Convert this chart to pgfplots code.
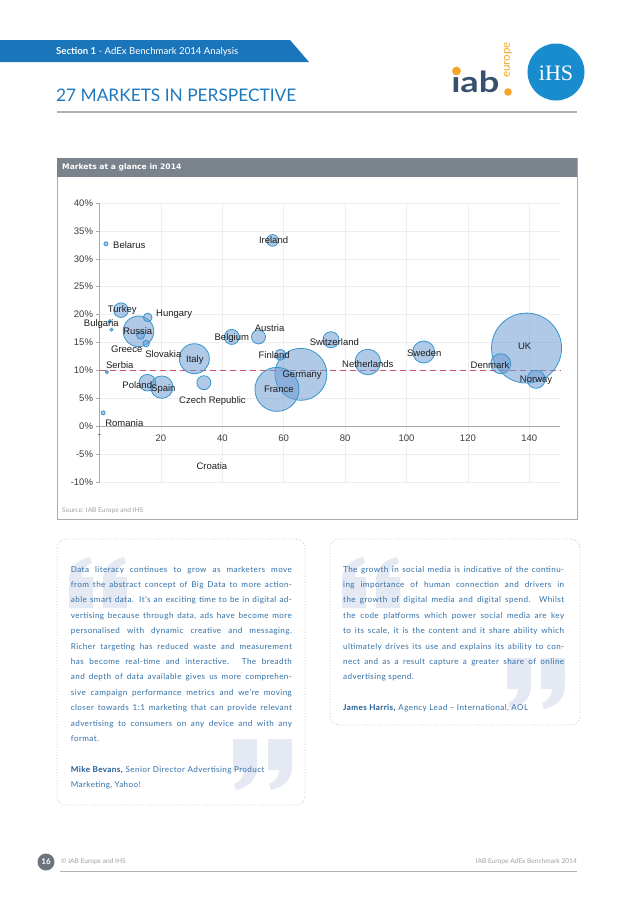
\documentclass[border=0pt]{standalone}
\usepackage{pgfplots}
\pgfplotsset{compat=1.18}
\usepackage{pgfplotstable}
\usepackage{fontspec}
\setmainfont{Lato}
\newfontfamily\chartfont{Liberation Sans}
\newfontfamily\ihsfont{Liberation Serif}
\newfontfamily\hdrfont{DejaVu Sans}
\newfontfamily\quotefont[LetterSpace=5]{Lato}

\definecolor{bandblue}{RGB}{27,117,187}
\definecolor{titleblue}{RGB}{30,120,190}
\definecolor{rulegrey}{RGB}{175,178,182}
\definecolor{hdrgrey}{RGB}{122,130,140}
\definecolor{boxgrey}{RGB}{165,170,176}
\definecolor{bubfill}{RGB}{110,157,210}
\definecolor{bubedge}{RGB}{55,150,205}
\definecolor{refred}{RGB}{200,85,110}
\definecolor{gridc}{RGB}{238,238,238}
\definecolor{axisgrey}{RGB}{170,170,170}
\definecolor{tickc}{RGB}{60,60,60}
\definecolor{labc}{RGB}{30,30,30}
\definecolor{quoteblue}{RGB}{50,112,168}
\definecolor{authblue}{RGB}{30,90,150}
\definecolor{quotebg}{RGB}{228,233,243}
\definecolor{iabgrey}{RGB}{55,80,110}
\definecolor{iaborange}{RGB}{245,165,40}
\definecolor{ihsblue}{RGB}{25,140,205}
\definecolor{footgrey}{RGB}{160,160,160}
\definecolor{footcirc}{RGB}{110,116,126}
\definecolor{dotgrey}{RGB}{195,198,202}

\pgfplotstableread[col sep=comma]{
x,y,r
139.1,14.0,35
65.6,9.3,26
57.8,6.6,22
12.7,17.0,15.3
30.9,12.1,15
87.4,11.5,12.8
20.3,7.0,11.2
105.6,13.3,11
130.7,11.2,10
142.2,8.4,9
15.6,7.8,8.3
75.4,15.5,8
43.1,16.0,7.5
7.0,20.8,7.3
51.8,16.0,7
34.0,7.8,7
56.4,33.3,5.8
58.9,12.8,5.5
15.7,19.5,4.3
13.4,16.3,4
15.2,14.8,3.3
2.1,32.7,2
1.2,2.4,2
3.4,18.8,1.7
3.9,17.3,1.5
2.4,9.7,1.5
}\bubbles

\pgfplotstableread[col sep=comma]{
x,y,label
9.72,32.38,Belarus
56.7,33.28,Ireland
7.4,20.79,Turkey
24.3,20.1,Hungary
0.6,18.33,Bulgaria
12.46,17.03,Russia
55.4,17.6,Austria
43.1,15.82,Belgium
8.87,13.74,Greece
20.8,12.95,Slovakia
31.05,11.88,Italy
56.9,12.72,Finland
6.6,10.89,Serbia
66.0,9.14,Germany
12.3,7.30,Poland
20.8,6.68,Spain
58.4,6.56,France
36.8,4.48,Czech Republic
8.1,0.59,Romania
36.6,-7.17,Croatia
76.5,15.12,Switzerland
105.8,13.17,Sweden
87.4,11.17,Netherlands
127.2,10.97,Denmark
138.5,14.28,UK
142.2,8.24,Norway
}\labels

\newcommand\qmark[2]{\fill[quotebg] (#1,#2) -- ({#1+24},#2) -- ({#1+24},{#2+28})
  .. controls ({#1+24},{#2+40}) and ({#1+16},{#2+48}) .. ({#1+3},{#2+51})
  -- ({#1+1},{#2+45}) .. controls ({#1+9},{#2+42}) and ({#1+11},{#2+36}) .. ({#1+11},{#2+31})
  -- (#1,{#2+31}) -- cycle;}

\newcommand\qline[3]{\node[anchor=base west, inner sep=0pt, text=quoteblue,
  font=\quotefont\fontsize{8.1}{9}\selectfont] at (#1,#2) {\makebox[221pt][s]{#3}};}
\newcommand\qlast[3]{\node[anchor=base west, inner sep=0pt, text=quoteblue,
  font=\quotefont\fontsize{8.1}{9}\selectfont] at (#1,#2) {#3};}

\begin{document}
\begin{tikzpicture}
\begin{scope}[x=1pt,y=-1pt]
\fill[white] (0,0) rectangle (638,903);
\path[use as bounding box] (0,0) rectangle (638,903);
% header band
\fill[bandblue] (0,40) -- (290,40) -- (309,62) -- (0,62) -- cycle;
\node[anchor=west, text=white, inner sep=0pt, font=\fontsize{9.6}{10}\selectfont] at (56,51.5)
  {\textbf{Section 1} - AdEx Benchmark 2014 Analysis};
% title
\node[anchor=base west, inner sep=0pt, text=titleblue, font=\fontsize{17.3}{18}\selectfont] at (56,101)
  {27 MARKETS IN PERSPECTIVE};
\draw[rulegrey, line width=1.3pt] (57,112) -- (577,112);
% logos
\node[anchor=base west, inner sep=0pt, text=iabgrey, font=\bfseries\fontsize{29}{29}\selectfont, xscale=1.25] at (451,92) {ıab};
\fill[iaborange] (456.5,71) circle (4.4);
\fill[iaborange] (508,92) circle (3.8);
\node[rotate=90, inner sep=0pt, text=iaborange, font=\fontsize{11.5}{12}\selectfont] at (508,60) {europe};
\fill[ihsblue] (556,72) circle (28.5);
\node[text=white, inner sep=0pt, font=\ihsfont\fontsize{22}{22}\selectfont] at (556,73) {iHS};
% chart box
\draw[boxgrey, line width=0.9pt] (57,158) rectangle (577,519);
\fill[hdrgrey] (57,158) rectangle (577,176.5);
\node[anchor=west, text=white, inner sep=0pt, font=\hdrfont\bfseries\fontsize{7.6}{9}\selectfont] at (62,167.3)
  {Markets at a glance in 2014};
\node[anchor=west, text=footgrey, inner sep=0pt, font=\fontsize{6.6}{7}\selectfont] at (62,511)
  {Source: IAB Europe and IHS};
% quote boxes
\draw[dotgrey, line width=0.8pt, dotted, rounded corners=9pt] (57,539) rectangle (305,805);
\draw[dotgrey, line width=0.8pt, dotted, rounded corners=9pt] (330,539) rectangle (580,725);
\begin{scope}[rotate around={180:(98.5,582.5)}]
\qmark{70}{557}\qmark{104}{557}
\end{scope}
\begin{scope}[rotate around={180:(371.5,582.5)}]
\qmark{343}{557}\qmark{377}{557}
\end{scope}
\qmark{233}{739}\qmark{268}{739}
\qmark{507}{658}\qmark{541}{658}
% left quote text
\qline{70.7}{572}{Data literacy continues to grow as marketers move}
\qline{70.7}{587.4}{from the abstract concept of Big Data to more action-}
\qline{70.7}{602.8}{able smart data. It’s an exciting time to be in digital ad-}
\qline{70.7}{618.2}{vertising because through data, ads have become more}
\qline{70.7}{633.6}{personalised with dynamic creative and messaging.}
\qline{70.7}{649}{Richer targeting has reduced waste and measurement}
\qline{70.7}{664.4}{has become real-time and interactive. The breadth}
\qline{70.7}{679.8}{and depth of data available gives us more comprehen-}
\qline{70.7}{695.2}{sive campaign performance metrics and we’re moving}
\qline{70.7}{710.6}{closer towards 1:1 marketing that can provide relevant}
\qline{70.7}{726}{advertising to consumers on any device and with any}
\qlast{70.7}{741.4}{format.}
\qlast{70.7}{772.5}{\textcolor{authblue}{\textbf{Mike Bevans,}} Senior Director Advertising Product}
\qlast{70.7}{787.9}{Marketing, Yahoo!}
% right quote text
\qline{343}{572}{The growth in social media is indicative of the continu-}
\qline{343}{587.4}{ing importance of human connection and drivers in}
\qline{343}{602.8}{the growth of digital media and digital spend. Whilst}
\qline{343}{618.2}{the code platforms which power social media are key}
\qline{343}{633.6}{to its scale, it is the content and it share ability which}
\qline{343}{649}{ultimately drives its use and explains its ability to con-}
\qline{343}{664.4}{nect and as a result capture a greater share of online}
\qlast{343}{679.8}{advertising spend.}
\qlast{343}{710.5}{\textcolor{authblue}{\textbf{James Harris,}} Agency Lead – International, AOL}
% footer
\fill[footcirc] (46,862) circle (8.5);
\node[text=white, inner sep=0pt, font=\bfseries\fontsize{8}{8}\selectfont] at (46,862) {16};
\node[anchor=west, text=footgrey, inner sep=0pt, font=\fontsize{6.6}{7}\selectfont] at (61,862) {© IAB Europe and IHS};
\node[anchor=east, text=footgrey, inner sep=0pt, font=\fontsize{6.6}{7}\selectfont] at (577,862) {IAB Europe AdEx Benchmark 2014};
\draw[rulegrey, line width=1pt] (60,871) -- (577,871);
\end{scope}

\begin{axis}[
  at={(99.5pt,-482pt)}, anchor=south west,
  scale only axis, width=460.5pt, height=279pt,
  xmin=0, xmax=150, ymin=-10, ymax=40,
  axis x line*=middle, axis y line*=left,
  hide obscured x ticks=false,
  xtick={0,20,...,140}, xticklabels={-,20,40,60,80,100,120,140},
  ytick={-10,-5,...,40},
  yticklabels={-10\%,-5\%,0\%,5\%,10\%,15\%,20\%,25\%,30\%,35\%,40\%},
  grid=major, grid style={gridc, line width=0.6pt},
  axis line style={draw=axisgrey, line width=1pt},
  x axis line style={line width=1.4pt},
  xtick style={draw=none},
  ytick style={draw=axisgrey, line width=0.6pt},
  tick align=outside, major tick length=3pt,
  tick label style={font=\chartfont\fontsize{9.5}{10}\selectfont, text=tickc},
  /pgf/number format/assume math mode=true,
  xticklabel style={yshift=-2pt},
  clip=false,
]
\addplot[scatter, only marks, mark=*,
  scatter/use mapped color={draw=bubedge, fill=bubfill},
  visualization depends on={\thisrow{r}\as\rad},
  scatter/@pre marker code/.append style={/tikz/mark size=\rad},
  mark options={fill opacity=0.55, draw opacity=1, line width=0.8pt}]
  table[x=x, y=y]{\bubbles};
\addplot[refred, line width=1.1pt, dash pattern=on 6pt off 4pt] coordinates {(0,10) (150,10)};
\addplot[draw=none, nodes near coords, point meta=explicit symbolic,
  every node near coord/.append style={anchor=center, inner sep=0pt,
    font=\chartfont\fontsize{9.5}{10}\selectfont, text=labc}]
  table[x=x, y=y, meta=label]{\labels};
\end{axis}
\end{tikzpicture}
\end{document}
